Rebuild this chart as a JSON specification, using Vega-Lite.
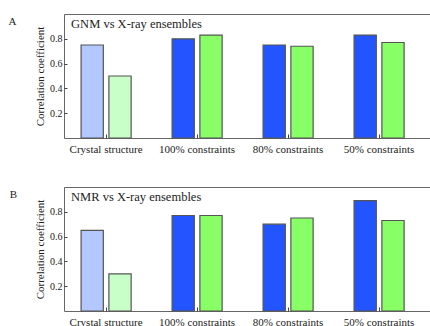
{
  "$schema": "https://vega.github.io/schema/vega-lite/v6.json",
  "padding": {"left": 8, "top": 13, "right": 0, "bottom": 0},
  "spacing": 31,
  "config": {
    "font": "Liberation Serif",
    "view": {"stroke": "#666", "strokeWidth": 1},
    "axis": {"domain": false, "grid": false, "labelFont": "Liberation Serif", "titleFont": "Liberation Serif", "labelColor": "#222", "titleColor": "#222", "titleFontWeight": "normal", "tickColor": "#444"},
    "text": {"font": "Liberation Serif"},
    "title": {"font": "Liberation Serif", "fontWeight": "normal", "fontSize": 11, "color": "#222"}
  },
  "vconcat": [
    {
      "width": 380,
      "height": 124,
      "title": {"text": "A", "orient": "left", "angle": 0, "anchor": "end", "baseline": "top", "dy": 2, "offset": 10},
      "data": {"values": [
        {"group": "Crystal structure", "series": "first", "bar": "crystal first", "value": 0.75},
        {"group": "Crystal structure", "series": "second", "bar": "crystal second", "value": 0.50},
        {"group": "100% constraints", "series": "first", "bar": "ensemble first", "value": 0.80},
        {"group": "100% constraints", "series": "second", "bar": "ensemble second", "value": 0.83},
        {"group": "80% constraints", "series": "first", "bar": "ensemble first", "value": 0.75},
        {"group": "80% constraints", "series": "second", "bar": "ensemble second", "value": 0.74},
        {"group": "50% constraints", "series": "first", "bar": "ensemble first", "value": 0.83},
        {"group": "50% constraints", "series": "second", "bar": "ensemble second", "value": 0.77}
      ]},
      "layer": [
        {
          "mark": {"type": "bar", "stroke": "#555", "strokeWidth": 1.2},
          "encoding": {
            "x": {"field": "group", "type": "nominal", "sort": null, "title": null,
                  "scale": {"paddingInner": 0.45, "paddingOuter": 0.313, "align": 0.3},
                  "axis": {"labelAngle": 0, "labelFont": "Liberation Serif", "labelFontSize": 11, "tickSize": -4, "labelPadding": 9}},
            "xOffset": {"field": "series", "type": "nominal", "scale": {"paddingInner": 0.2, "paddingOuter": 0}},
            "y": {"field": "value", "type": "quantitative", "title": "Correlation coefficient",
                  "scale": {"domain": [0, 1]},
                  "axis": {"values": [0.2, 0.4, 0.6, 0.8], "format": ".1f", "labelFont": "Liberation Serif", "titleFont": "Liberation Serif", "labelFontSize": 10, "titleFontSize": 11, "tickSize": -3, "labelPadding": 5, "titlePadding": 4}},
            "color": {"field": "bar", "type": "nominal", "legend": null,
                      "scale": {"domain": ["crystal first", "crystal second", "ensemble first", "ensemble second"], "range": ["#b3c8ff", "#c8ffc8", "#2255ff", "#88ff66"]}}
          }
        },
        {
          "data": {"values": [{"label": "GNM vs X-ray ensembles"}]},
          "mark": {"type": "text", "align": "left", "baseline": "alphabetic", "fontSize": 12.5, "font": "Liberation Serif", "color": "#222", "dx": -10},
          "encoding": {
            "x": {"datum": "Crystal structure", "bandPosition": 0},
            "y": {"datum": 0.885},
            "text": {"field": "label"}
          }
        }
      ]
    },
    {
      "width": 380,
      "height": 124,
      "title": {"text": "B", "orient": "left", "angle": 0, "anchor": "end", "baseline": "top", "dy": 2, "offset": 10},
      "data": {"values": [
        {"group": "Crystal structure", "series": "first", "bar": "crystal first", "value": 0.65},
        {"group": "Crystal structure", "series": "second", "bar": "crystal second", "value": 0.30},
        {"group": "100% constraints", "series": "first", "bar": "ensemble first", "value": 0.77},
        {"group": "100% constraints", "series": "second", "bar": "ensemble second", "value": 0.77},
        {"group": "80% constraints", "series": "first", "bar": "ensemble first", "value": 0.70},
        {"group": "80% constraints", "series": "second", "bar": "ensemble second", "value": 0.75},
        {"group": "50% constraints", "series": "first", "bar": "ensemble first", "value": 0.89},
        {"group": "50% constraints", "series": "second", "bar": "ensemble second", "value": 0.73}
      ]},
      "layer": [
        {
          "mark": {"type": "bar", "stroke": "#555", "strokeWidth": 1.2},
          "encoding": {
            "x": {"field": "group", "type": "nominal", "sort": null, "title": null,
                  "scale": {"paddingInner": 0.45, "paddingOuter": 0.313, "align": 0.3},
                  "axis": {"labelAngle": 0, "labelFont": "Liberation Serif", "labelFontSize": 11, "tickSize": -4, "labelPadding": 9}},
            "xOffset": {"field": "series", "type": "nominal", "scale": {"paddingInner": 0.2, "paddingOuter": 0}},
            "y": {"field": "value", "type": "quantitative", "title": "Correlation coefficient",
                  "scale": {"domain": [0, 1]},
                  "axis": {"values": [0.2, 0.4, 0.6, 0.8], "format": ".1f", "labelFont": "Liberation Serif", "titleFont": "Liberation Serif", "labelFontSize": 10, "titleFontSize": 11, "tickSize": -3, "labelPadding": 5, "titlePadding": 4}},
            "color": {"field": "bar", "type": "nominal", "legend": null,
                      "scale": {"domain": ["crystal first", "crystal second", "ensemble first", "ensemble second"], "range": ["#b3c8ff", "#c8ffc8", "#2255ff", "#88ff66"]}}
          }
        },
        {
          "data": {"values": [{"label": "NMR vs X-ray ensembles"}]},
          "mark": {"type": "text", "align": "left", "baseline": "alphabetic", "fontSize": 12.5, "font": "Liberation Serif", "color": "#222", "dx": -10},
          "encoding": {
            "x": {"datum": "Crystal structure", "bandPosition": 0},
            "y": {"datum": 0.885},
            "text": {"field": "label"}
          }
        }
      ]
    }
  ]
}
